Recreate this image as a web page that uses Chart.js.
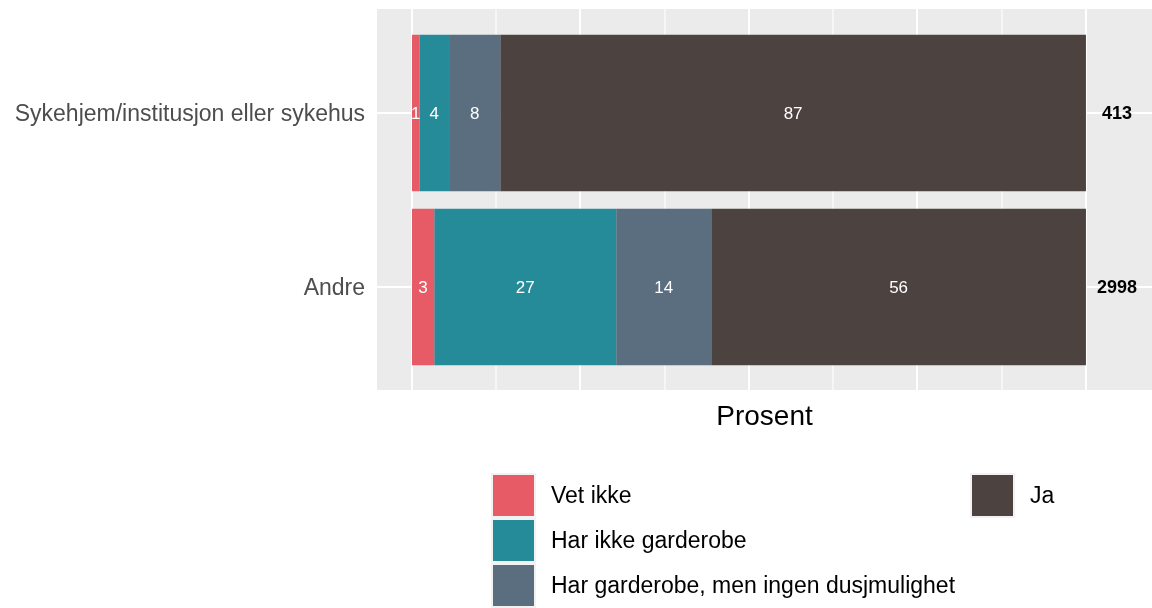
<!DOCTYPE html>
<html><head><meta charset="utf-8">
<script src="https://cdn.jsdelivr.net/npm/chart.js@4/dist/chart.umd.min.js"></script>
<style>html,body{margin:0;padding:0;background:#fff}#wrap{width:1152px;height:608px;position:relative}</style>
</head><body><div id="wrap"><canvas id="c" width="1152" height="608"></canvas></div>
<script>
const categories = ["Sykehjem/institusjon eller sykehus", "Andre"];
const seriesNames = ["Vet ikke", "Har ikke garderobe", "Har garderobe, men ingen dusjmulighet", "Ja"];
const vetIkke = [1.1, 3.3];
const harIkkeGarderobe = [4.4, 27.0];
const garderobeIngenDusj = [7.6, 14.1];
const ja = [86.9, 55.6];
const nLabels = ["413", "2998"];
const nLabelPosition = 104.6;
const xGrid = [0, 12.5, 25, 37.5, 50, 62.5, 75, 87.5, 100];
const colors = ["#E65B65", "#268B99", "#5A6E7F", "#4C4240"];
const axisTitle = "Prosent";

const FONT = '"Liberation Sans", Arial, Helvetica, sans-serif';
const PANEL = {left: 377, right: 1152, top: 9, bottom: 390};

const seriesValues = [vetIkke, harIkkeGarderobe, garderobeIngenDusj, ja];

const panelPlugin = {
  id: 'panel',
  beforeDraw(chart) {
    const ctx = chart.ctx, xs = chart.scales.x;
    ctx.save();
    ctx.fillStyle = '#EBEBEB';
    ctx.fillRect(PANEL.left, PANEL.top, PANEL.right - PANEL.left, PANEL.bottom - PANEL.top);
    ctx.strokeStyle = '#FFFFFF';
    xGrid.forEach(v => {
      const major = (v % 25) === 0;
      ctx.lineWidth = major ? 2 : 1.1;
      const px = Math.round(xs.getPixelForValue(v));
      ctx.beginPath();
      ctx.moveTo(px, PANEL.top);
      ctx.lineTo(px, PANEL.bottom);
      ctx.stroke();
    });
    const ys = chart.scales.y;
    ctx.lineWidth = 2;
    categories.forEach((c, i) => {
      const py = Math.round(ys.getPixelForValue(i));
      ctx.beginPath();
      ctx.moveTo(PANEL.left, py);
      ctx.lineTo(PANEL.right, py);
      ctx.stroke();
    });
    ctx.restore();
  },
  afterDatasetsDraw(chart) {
    const ctx = chart.ctx;
    ctx.save();
    ctx.textAlign = 'center';
    ctx.textBaseline = 'middle';
    ctx.fillStyle = '#FFFFFF';
    ctx.font = '17px ' + FONT;
    chart.data.datasets.forEach((ds, i) => {
      const meta = chart.getDatasetMeta(i);
      meta.data.forEach((el, j) => {
        const cx = (el.x + el.base) / 2;
        ctx.fillText(String(Math.round(ds.data[j])), cx, el.y + 1);
      });
    });
    ctx.fillStyle = '#000000';
    ctx.font = 'bold 18px ' + FONT;
    const xs = chart.scales.x, ys = chart.scales.y;
    nLabels.forEach((t, i) => {
      ctx.fillText(t, xs.getPixelForValue(nLabelPosition), ys.getPixelForValue(i) + 1);
    });
    ctx.restore();
  },
  afterDraw(chart) {
    const ctx = chart.ctx;
    ctx.save();
    ctx.fillStyle = '#000000';
    ctx.textAlign = 'center';
    ctx.textBaseline = 'alphabetic';
    ctx.font = '28px ' + FONT;
    ctx.fillText(axisTitle, (PANEL.left + PANEL.right) / 2, 425);
    // legend
    const keySize = 45;
    const cols = [{x: 491, items: [0, 1, 2]}, {x: 970, items: [3]}];
    ctx.font = '23px ' + FONT;
    ctx.textAlign = 'left';
    ctx.textBaseline = 'middle';
    cols.forEach(col => {
      col.items.forEach((idx, r) => {
        const ky = 473 + r * keySize;
        ctx.fillStyle = '#F2F2F2';
        ctx.fillRect(col.x, ky, keySize, keySize);
        ctx.fillStyle = chart.data.datasets[idx].backgroundColor;
        ctx.fillRect(col.x + 2, ky + 2, keySize - 4, keySize - 4);
        ctx.fillStyle = '#000000';
        ctx.fillText(chart.data.datasets[idx].label, col.x + keySize + 15, ky + keySize / 2 + 1);
      });
    });
    ctx.restore();
  }
};

new Chart(document.getElementById('c'), {
  type: 'bar',
  data: {
    labels: categories,
    datasets: seriesNames.map((name, i) => ({
      label: name,
      data: seriesValues[i],
      backgroundColor: colors[i],
      borderWidth: 0,
      categoryPercentage: 0.9,
      barPercentage: 1.0
    }))
  },
  options: {
    indexAxis: 'y',
    responsive: false,
    animation: false,
    devicePixelRatio: 1,
    layout: {padding: {top: 26, bottom: 234, left: 0, right: 0}},
    plugins: {legend: {display: false}, tooltip: {enabled: false}},
    scales: {
      x: {
        type: 'linear', stacked: true, display: false,
        min: -5.19, max: 109.8
      },
      y: {
        type: 'category', stacked: true,
        grid: {display: false, drawTicks: false},
        border: {display: false},
        ticks: {font: {family: FONT, size: 23}, color: '#4D4D4D', padding: 12, labelOffset: 2},
        afterFit(scale) { scale.width = 377; }
      }
    }
  },
  plugins: [panelPlugin]
});
</script>
</body></html>
